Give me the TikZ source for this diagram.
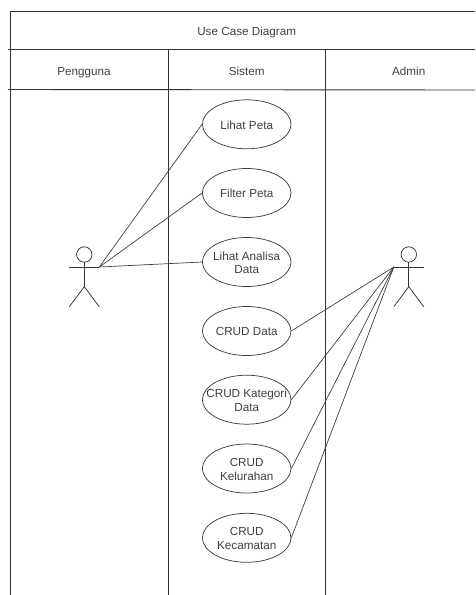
\documentclass[tikz,border=0pt]{standalone}
\usepackage{fontspec}
\setmainfont{Liberation Sans}
\usetikzlibrary{shapes.geometric}

\tikzset{
    lane/.style={draw=black!80, line width=0.9pt},
    link/.style={draw=black!75, line width=0.7pt},
    actorline/.style={draw=black!80, line width=0.75pt},
    usecase/.style={ellipse, draw=black!75, line width=0.75pt, inner sep=0pt,
        minimum width=88.6pt, minimum height=49pt},
    caption/.style={text=black!75, font=\fontsize{11.7}{13.7}\selectfont, align=center, inner sep=0pt},
}

\begin{document}
\begin{tikzpicture}[x=1pt, y=-1pt]
        \useasboundingbox (0,0) rectangle (475,595);
        % swimlanes
        \path[lane] (475,11.3) -- (10.3,11.3) -- (10.3,595);
        \path[lane] (8,49.7) -- (475,49.7);
        \path[lane] (8,89.5) -- (475,90);
        \foreach \a in {168,325.4} {
            \path[lane] (\a,49.7) -- (\a,595);
        }
        \node[caption, anchor=base] (title) at (246.7,35.7) {Use Case Diagram};
        \foreach \n/\a/\l in {pengguna/84/Pengguna, sistem/246.7/Sistem, admin/408.7/Admin} {
            \node[caption, anchor=base] (\n) at (\a,75) {\l};
        }
        % use cases
        \foreach \n/\y/\l in {lihat/124.3/Lihat Peta, filter/193/Filter Peta,
                analisa/262/Lihat Analisa\\Data, data/331/CRUD Data,
                kategori/399.7/CRUD Kategori\\Data, kelurahan/468.5/CRUD\\Kelurahan,
                kecamatan/537.8/CRUD\\Kecamatan} {
            \node[usecase, label={[caption, yshift=-0.7pt]center:\l}] (\n) at (246.7,\y) {};
        }
        % actors
        \foreach \n/\a in {user/84.3, operator/408.8} {
            \path[actorline] (\a,254.5) circle (7.7pt);
            \coordinate (\n-left) at (\a-15,267);
            \coordinate (\n-right) at (\a+15,267);
            \path[actorline] (\n-left) -- (\n-right);
            \path[actorline] (\a,262.2) -- (\a,286.7);
            \path[actorline] (\a-15,306.7) -- (\a,286.7) -- (\a+15,306.7);
        }
        % connectors
        \foreach \n in {lihat,filter,analisa} {
            \path[link] (user-right) -- (\n.west);
        }
        \foreach \n in {data,kategori,kelurahan,kecamatan} {
            \path[link] (operator-left) -- (\n.east);
        }
\end{tikzpicture}
\end{document}
